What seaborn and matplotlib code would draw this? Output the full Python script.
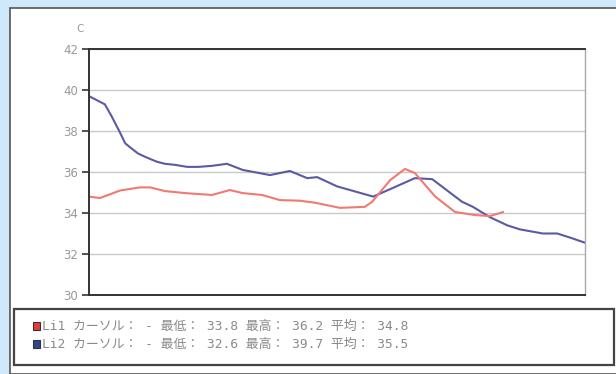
import numpy as np
import pandas as pd
import matplotlib
matplotlib.use("Agg")
import matplotlib.pyplot as plt
from matplotlib.patches import Rectangle
import seaborn as sns


# sample position along the recording (0..100)
LI1_T = [0, 2.2, 6.3, 10.3, 12.3, 15.3, 19.4, 24.8, 28.4, 31.0, 34.9, 38.5, 42.5,
         45.6, 50.6, 55.6, 57.1, 60.7, 63.7, 65.7, 69.8, 73.8, 77.8, 80.8, 82.9, 83.5]
LI1_TEMP = [34.8, 34.73, 35.1, 35.25, 35.25, 35.07, 34.97, 34.88, 35.12, 34.97, 34.88,
            34.63, 34.6, 34.5, 34.25, 34.3, 34.55, 35.6, 36.15, 35.95, 34.8, 34.05,
            33.9, 33.85, 34.0, 34.05]

LI2_T = [0, 3.2, 4.6, 6.3, 7.3, 8.3, 9.9, 11.7, 13.7, 15.3, 17.3, 19.8, 22.0, 24.8,
         27.8, 31.0, 36.5, 40.5, 44.0, 46.0, 50.0, 57.3, 61.7, 65.7, 69.2, 75.2, 77.4,
         80.8, 84.3, 86.9, 91.5, 94.4, 97.0, 100]
LI2_TEMP = [39.7, 39.3, 38.7, 37.9, 37.4, 37.2, 36.9, 36.7, 36.5, 36.4, 36.35, 36.25,
            36.25, 36.3, 36.4, 36.1, 35.85, 36.05, 35.7, 35.75, 35.3, 34.8, 35.27, 35.7,
            35.65, 34.55, 34.3, 33.8, 33.4, 33.2, 33.0, 33.0, 32.8, 32.55]

Y_TICKS = [30, 32, 34, 36, 38, 40, 42]
LEGEND_LINES = [
    ("Li1 カーソル： - 最低： 33.8 最高： 36.2 平均： 34.8", "#e63a3a"),
    ("Li2 カーソル： - 最低： 32.6 最高： 39.7 平均： 35.5", "#2e4690"),
]

LINE_COLORS = {"Li1": "#f07a72", "Li2": "#5b5aa2"}


def build_frame() -> pd.DataFrame:
    li1 = pd.DataFrame({"t": LI1_T, "temp": LI1_TEMP, "probe": "Li1"})
    li2 = pd.DataFrame({"t": LI2_T, "temp": LI2_TEMP, "probe": "Li2"})
    return pd.concat([li1, li2], ignore_index=True)


def main() -> None:
    sns.set_style("white")
    plt.rcParams["font.family"] = ["DejaVu Sans", "Noto Sans CJK JP"]

    fig = plt.figure(figsize=(6.16, 3.74), dpi=100)
    fig.patch.set_facecolor("#cfe8fa")

    W, H = 616, 374
    # white panel and legend box, kept behind the axes
    fig.patches.append(Rectangle((10 / W, 0), 1.0, 1 - 8 / H, transform=fig.transFigure,
                                 facecolor="white", edgecolor="#555555", linewidth=1.2,
                                 zorder=-10))
    fig.patches.append(Rectangle((14 / W, 1 - 365 / H), 600 / W, 56 / H, transform=fig.transFigure,
                                 facecolor="white", edgecolor="#444444", linewidth=1.6,
                                 zorder=-9))

    ax = fig.add_axes([89 / W, 1 - 295 / H, 496 / W, 246 / H])
    ax.set_facecolor("white")

    df = build_frame()
    sns.lineplot(data=df, x="t", y="temp", hue="probe", palette=LINE_COLORS,
                 hue_order=["Li2", "Li1"], linewidth=1.5, legend=False, ax=ax,
                 estimator=None, sort=False)

    ax.set_xlim(0, 100)
    ax.set_ylim(30, 42)
    ax.set_yticks(Y_TICKS)
    ax.set_xticks([])
    ax.set_xlabel("")
    ax.set_ylabel("")
    ax.yaxis.grid(True, color="#c9c9c9", linewidth=1.0)
    ax.set_axisbelow(True)
    ax.tick_params(axis="y", direction="out", length=5, width=1.2, color="#333333",
                   labelsize=8.5, labelcolor="#999999", pad=3, left=True)

    for side in ["left", "bottom", "top"]:
        ax.spines[side].set_color("#333333")
        ax.spines[side].set_linewidth(1.4)
    ax.spines["right"].set_visible(True)
    ax.spines["right"].set_color("#aaaaaa")
    ax.spines["right"].set_linewidth(1.0)

    ax.text(-9 / 496, 1 + 20 / 246, "C", transform=ax.transAxes, fontsize=7.5,
            color="#999999", ha="center", va="center")

    # legend rows
    for i, (label, color) in enumerate(LEGEND_LINES):
        yc = 326 + i * 18
        fig.patches.append(Rectangle((33 / W, 1 - (yc + 4) / H), 7 / W, 8 / H,
                                     transform=fig.transFigure, facecolor=color,
                                     edgecolor="#333333", linewidth=0.8))
        fig.text(42 / W, 1 - yc / H, label, fontsize=9.3, color="#8a8a8a", va="center",
                 ha="left", family=["DejaVu Sans Mono", "Noto Sans CJK JP"])

    fig.savefig("out.png", dpi=100, facecolor=fig.get_facecolor())
    plt.close(fig)


if __name__ == "__main__":
    main()
